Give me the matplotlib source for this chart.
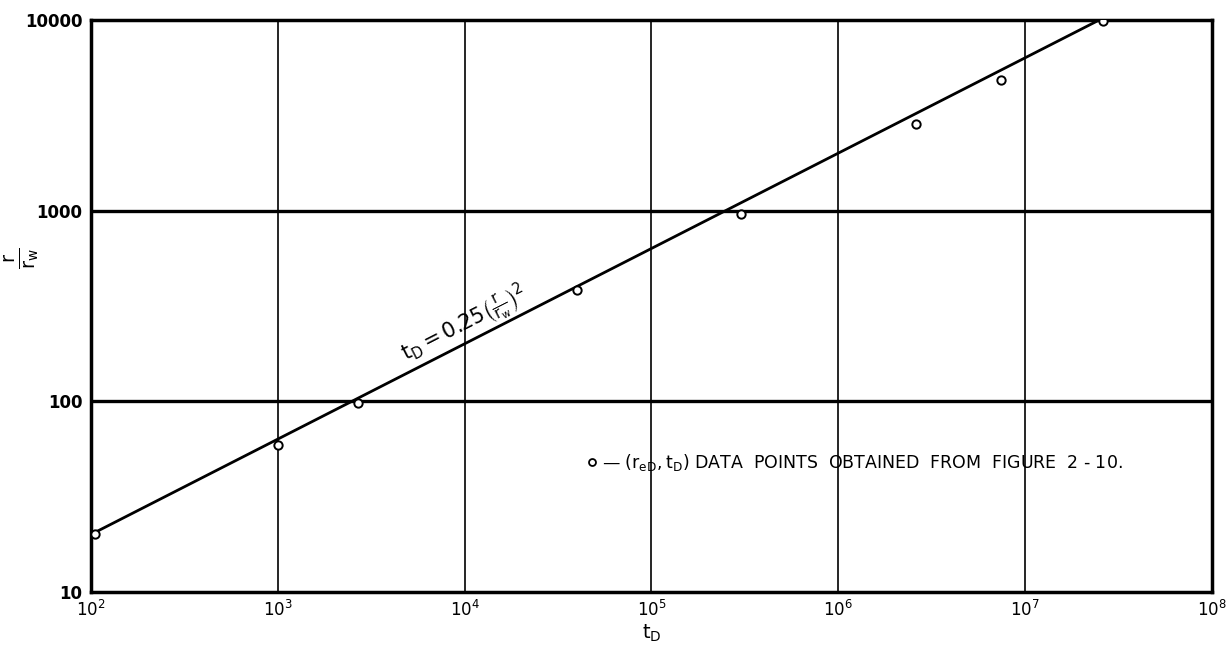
import numpy as np
from matplotlib import pyplot as plt, ticker

# Data points (t_D, r/r_w)
point_t = [105, 1000, 2700, 40000, 3.0e5, 2.6e6, 7.4e6, 2.6e7]
point_r = [20, 59, 98, 385, 960, 2850, 4850, 9900]

# Fitted line t_D = 0.25 (r/r_w)^2, end points
line_t = [100, 2.5e7]
line_r = [20, 10000]

x_ticks = [1e2, 1e3, 1e4, 1e5, 1e6, 1e7, 1e8]
y_ticks = [10, 100, 1000, 10000]
y_tick_labels = ['10', '100', '1000', '10000']

fig = plt.figure(figsize=(12.29, 6.65), dpi=100)
ax = fig.add_axes([0.074, 0.110, 0.912, 0.860])

ax.set_xscale('log')
ax.set_yscale('log')
ax.set_xlim(1e2, 1e8)
ax.set_ylim(10, 10000)

# Grid: thin verticals, heavy horizontals
for xt in x_ticks[1:-1]:
    ax.axvline(xt, color='black', lw=1.2, zorder=1)
for yt in y_ticks[1:-1]:
    ax.axhline(yt, color='black', lw=2.4, zorder=1)

# Line and data points
ax.plot(line_t, line_r, color='black', lw=2.0, zorder=2)
ax.plot(point_t, point_r, ls='none', marker='o', ms=6, mfc='white',
        mec='black', mew=1.4, zorder=3)

# Axes frame
for sp in ax.spines.values():
    sp.set_linewidth(2.5)

ax.set_xticks(x_ticks)
ax.xaxis.set_major_formatter(ticker.LogFormatterMathtext())
ax.set_yticks(y_ticks)
ax.set_yticklabels(y_tick_labels)
ax.xaxis.set_minor_locator(ticker.NullLocator())
ax.yaxis.set_minor_locator(ticker.NullLocator())
ax.tick_params(length=0, labelsize=12, pad=6)
for lbl in ax.get_yticklabels():
    lbl.set_fontweight('bold')

ax.set_xlabel(r'$\mathregular{t_D}$', fontsize=14, labelpad=2)

# y label: r over r_w, rotated
fig.text(22 / 1229, 1 - 258 / 665, r'$\mathregular{\frac{r}{r_w}}$',
         rotation=90, fontsize=20, ha='center', va='center')

# Equation label along the line
ax.text(1.0e4, 250, r'$\mathregular{t_D = 0.25\left(\frac{r}{r_w}\right)^2}$',
        rotation=27, fontsize=15, ha='center', va='center',
        rotation_mode='anchor')

# Legend-like annotation
ax.plot([0.447], [0.227], transform=ax.transAxes, ls='none', marker='o',
        ms=5, mfc='white', mec='black', mew=1.3, clip_on=False)
ax.text(0.456, 0.227, r'— $\mathregular{(r_{eD}, t_D)}$ DATA  POINTS  OBTAINED  FROM  FIGURE  2 - 10.',
        transform=ax.transAxes, fontsize=12.5, ha='left', va='center')

fig.savefig('out.png', dpi=100)
